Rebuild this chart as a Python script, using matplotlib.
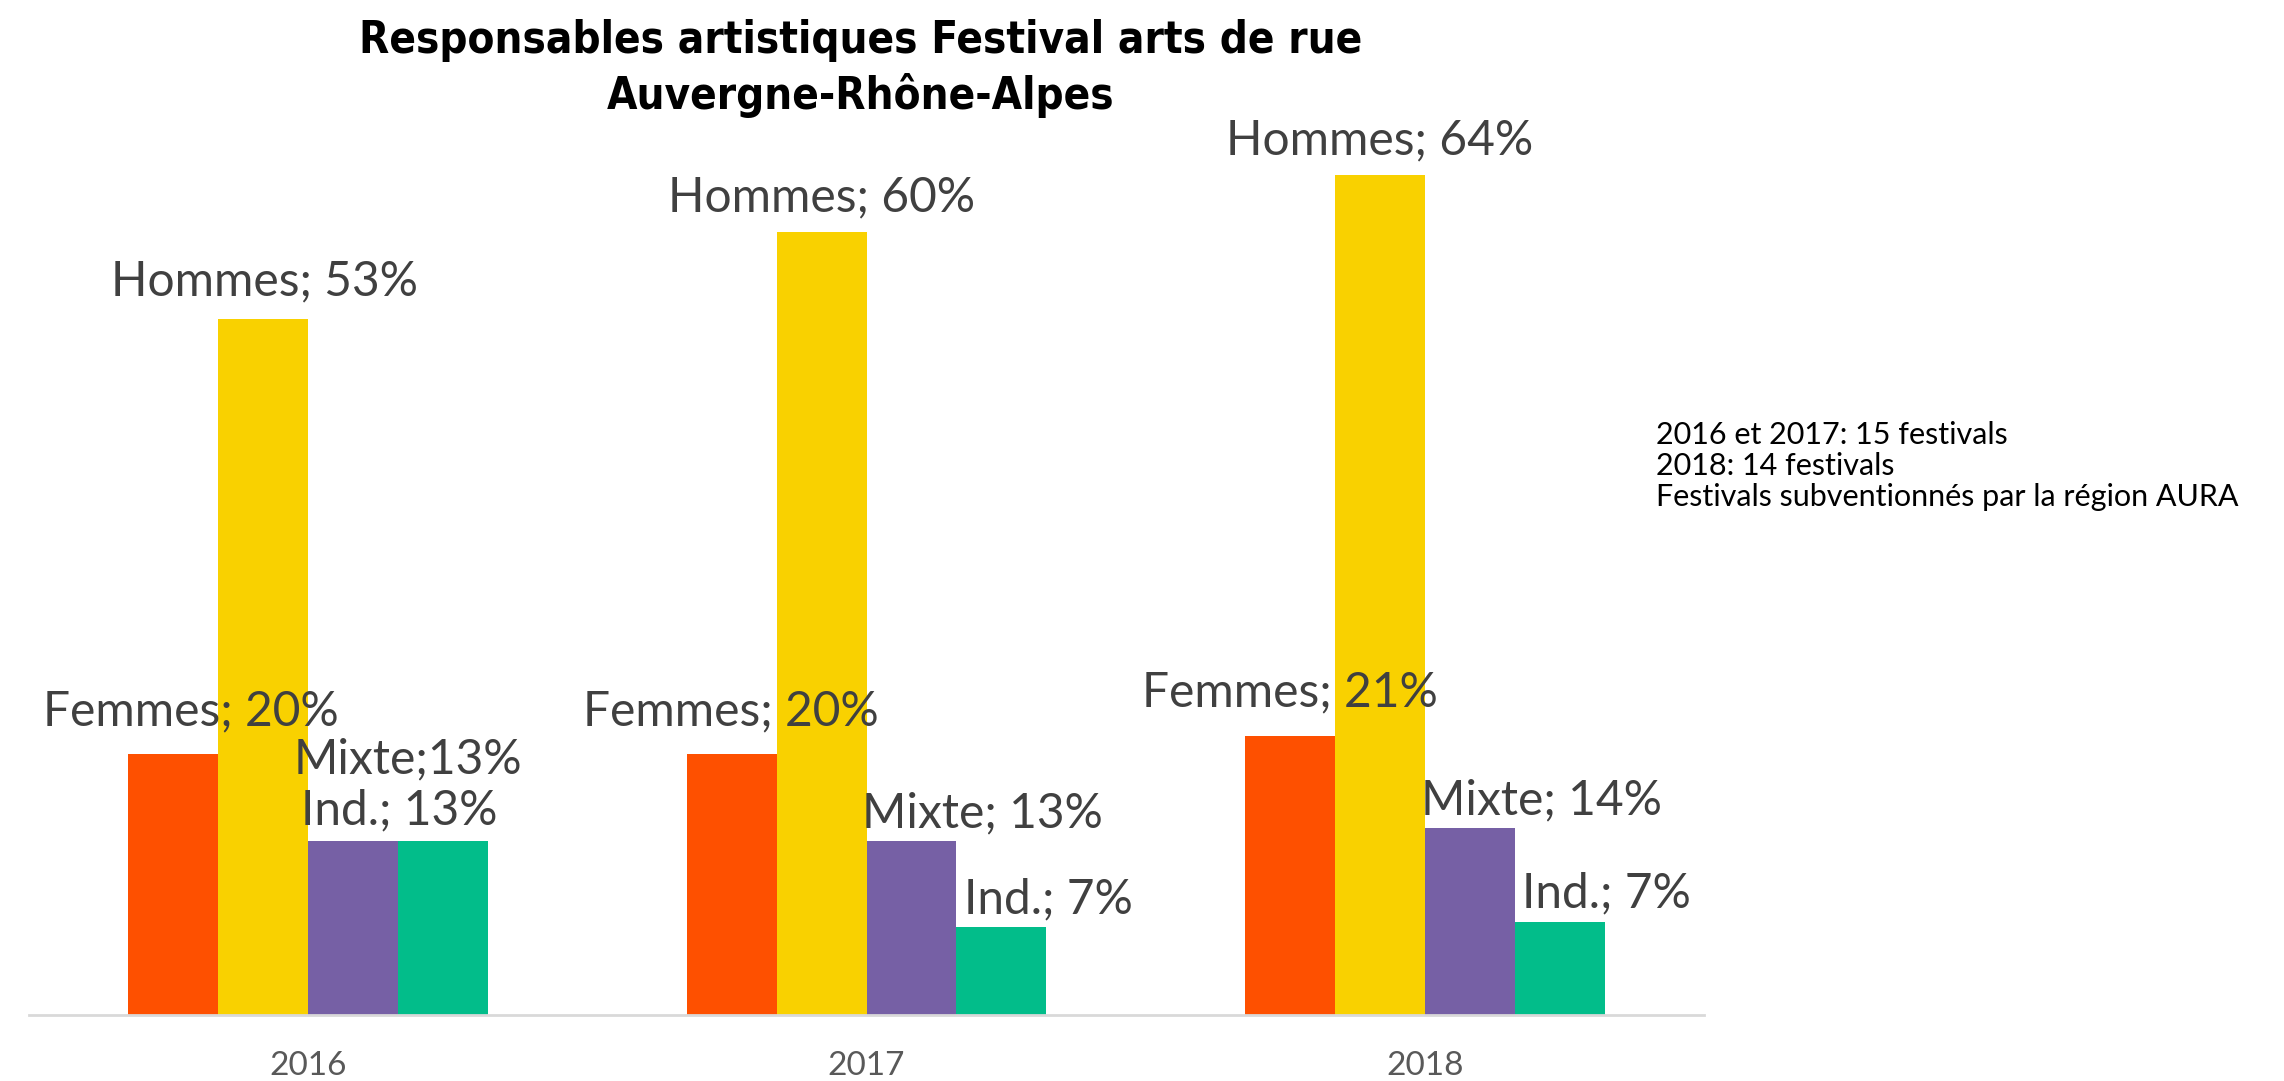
#Graphique: responsables artistiques des festivals arts de rue en Auvergne-Rhône-Alpes
import matplotlib.pyplot as plt
import numpy as np

# Données
annees = ['2016', '2017', '2018']
categories = ['Femmes', 'Hommes', 'Mixte', 'Ind.']
femmes = [20.0, 20.0, 21.4]
hommes = [53.3, 60.0, 64.3]
mixte = [13.3, 13.3, 14.3]
independants = [13.3, 6.7, 7.1]
etiquettes = [
    ['Femmes; 20%', 'Hommes; 53%', 'Mixte;13%', 'Ind.; 13%'],
    ['Femmes; 20%', 'Hommes; 60%', 'Mixte; 13%', 'Ind.; 7%'],
    ['Femmes; 21%', 'Hommes; 64%', 'Mixte; 14%', 'Ind.; 7%'],
]
note = "2016 et 2017: 15 festivals\n2018: 14 festivals\nFestivals subventionnés par la région AURA"

# Style
couleurs = ['#FE5000', '#F9D100', '#7660A5', '#02BD8A']
# décalages (pixels) des étiquettes déplacées à la main, par année puis catégorie
decalages = [
    [(18, 42), (1, 38), (55, 82), (-44, 31)],
    [(-1, 42), (0, 34), (71, 28), (47, 28)],
    [(0, 43), (0, 35), (72, 28), (47, 29)],
]

fig = plt.figure(figsize=(22.84, 10.81), dpi=100)
ax = fig.add_axes([0.0127, 0.0611, 0.7334, 0.8455])

series = [femmes, hommes, mixte, independants]
x = np.arange(len(annees))
largeur = 0.161

for i, (cat, valeurs) in enumerate(zip(categories, series)):
    pos = x + (i - 1.5) * largeur
    barres = ax.bar(pos, valeurs, width=largeur, color=couleurs[i], label=cat, linewidth=0)
    for j, b in enumerate(barres):
        dx, dy = decalages[j][i]
        ax.annotate(etiquettes[j][i], (b.get_x() + b.get_width() / 2, b.get_height()),
                    xytext=(dx, dy), textcoords='offset pixels', ha='center', va='center',
                    fontsize=34.5, color='#404040', family='Lato')

ax.set_xlim(-0.5, 2.5)
ax.set_ylim(0, 70)
ax.set_yticks([])
ax.set_xticks(x)
ax.set_xticklabels(annees, fontsize=24, color='#595959', family='Lato')
ax.tick_params(axis='x', length=0, pad=26)
for s in ['top', 'right', 'left']:
    ax.spines[s].set_visible(False)
ax.spines['bottom'].set_color('#D9D9D9')
ax.spines['bottom'].set_linewidth(2)

fig.text(0.377, 0.982, "Responsables artistiques Festival arts de rue\nAuvergne-Rhône-Alpes",
         ha='center', va='top', fontsize=31.5, fontweight='bold', linespacing=1.3,
         fontstretch='condensed', family='DejaVu Sans')
fig.text(0.725, 0.611, note, ha='left', va='top', fontsize=22, linespacing=1.15,
         color='black', family='Lato')

fig.savefig('out.png', dpi=100)
